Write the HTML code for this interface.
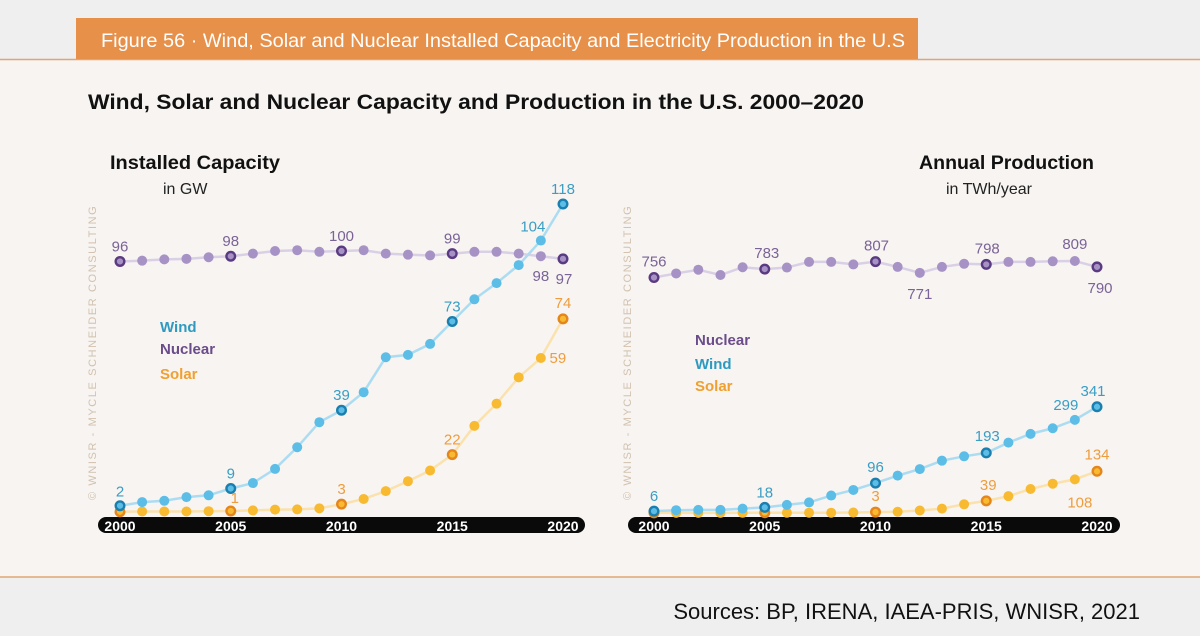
<!DOCTYPE html>
<html><head><meta charset="utf-8">
<style>
html,body{margin:0;padding:0;}
body{width:1200px;height:636px;background:#efefef;position:relative;overflow:hidden;font-family:"Liberation Sans",sans-serif;}
svg{position:absolute;left:0;top:0;}
</style></head>
<body>
<svg id="chart" width="1200" height="636" viewBox="0 0 1200 636">
  <rect x="0" y="59" width="1200" height="518" fill="#f7f4f2"/>
  <line x1="0" y1="59.5" x2="1200" y2="59.5" stroke="#e0a572" stroke-width="1.5"/>
  <line x1="0" y1="577" x2="1200" y2="577" stroke="#e0a572" stroke-width="1.5"/>
  <rect x="76" y="18" width="842" height="41" fill="#e6904a"/>
  <text x="101" y="47" font-size="19.5" fill="#ffffff" textLength="804" lengthAdjust="spacingAndGlyphs">Figure 56 · Wind, Solar and Nuclear Installed Capacity and Electricity Production in the U.S</text>
  <text x="88" y="109" font-size="21" font-weight="bold" fill="#111" textLength="776" lengthAdjust="spacingAndGlyphs">Wind, Solar and Nuclear Capacity and Production in the U.S. 2000–2020</text>
  <text x="110" y="169" font-size="19" font-weight="bold" fill="#111" textLength="170" lengthAdjust="spacingAndGlyphs">Installed Capacity</text>
  <text x="163" y="194" font-size="16" fill="#222">in GW</text>
  <text x="919" y="169" font-size="19" font-weight="bold" fill="#111" textLength="175" lengthAdjust="spacingAndGlyphs">Annual Production</text>
  <text x="946" y="194" font-size="16" fill="#222">in TWh/year</text>
  <text transform="translate(96,500) rotate(-90)" font-size="11" letter-spacing="1.6" fill="#d2c2ae">© WNISR - MYCLE SCHNEIDER CONSULTING</text>
  <text transform="translate(631,500) rotate(-90)" font-size="11" letter-spacing="1.6" fill="#d2c2ae">© WNISR - MYCLE SCHNEIDER CONSULTING</text>
  <text x="160" y="332" font-size="15" font-weight="bold" fill="#2e9ac0">Wind</text>
  <text x="160" y="354" font-size="15" font-weight="bold" fill="#6b4c8a">Nuclear</text>
  <text x="160" y="379" font-size="15" font-weight="bold" fill="#f0a030">Solar</text>
  <text x="695" y="345" font-size="15" font-weight="bold" fill="#6b4c8a">Nuclear</text>
  <text x="695" y="369" font-size="15" font-weight="bold" fill="#2e9ac0">Wind</text>
  <text x="695" y="391" font-size="15" font-weight="bold" fill="#f0a030">Solar</text>
  <text x="1140" y="619" font-size="22" fill="#111" text-anchor="end">Sources: BP, IRENA, IAEA-PRIS, WNISR, 2021</text>
</svg>
<script>
const years = [2000,2001,2002,2003,2004,2005,2006,2007,2008,2009,2010,2011,2012,2013,2014,2015,2016,2017,2018,2019,2020];
const tickYears = [2000,2005,2010,2015,2020];
// Installed capacity (GW)
const capWind = [2.4,3.8,4.3,5.7,6.4,9,11.1,16.5,24.8,34.4,39,45.9,59.3,60.2,64.4,73,81.5,87.7,94.6,104,118];
const capNuclear = [96,96.3,96.8,97,97.6,98,99,100,100.3,99.7,100,100.3,99,98.6,98.3,99,99.7,99.7,99,98,97];
const capSolar = [0.1,0.2,0.2,0.2,0.3,0.4,0.6,0.9,1,1.4,3,5,8,11.8,15.9,22,33,41.5,51.6,59,74];
// Annual production (TWh)
const prodNuclear = [756,769,781,764,789,783,788,806,806,798,807,790,771,790,800,798,806,806,808,809,790];
const prodWind = [6,9,10,10,14,18,26,34,56,74,96,120,141,168,182,193,226,254,272,299,341];
const prodSolar = [0.5,0.5,0.6,0.6,0.7,1,1,1,1,1.5,3,4,8,14,28,39,54,77,94,108,134];
// printed labels: [yearIndex, text]
const capWindLabels = [[0,"2"],[5,"9"],[10,"39"],[15,"73"],[19,"104"],[20,"118"]];
const capNuclearLabels = [[0,"96"],[5,"98"],[10,"100"],[15,"99"],[19,"98"],[20,"97"]];
const capSolarLabels = [[5,"1"],[10,"3"],[15,"22"],[19,"59"],[20,"74"]];
const prodNuclearLabels = [[0,"756"],[5,"783"],[10,"807"],[12,"771"],[15,"798"],[19,"809"],[20,"790"]];
const prodWindLabels = [[0,"6"],[5,"18"],[10,"96"],[15,"193"],[19,"299"],[20,"341"]];
const prodSolarLabels = [[10,"3"],[15,"39"],[19,"108"],[20,"134"]];

const NS = "http://www.w3.org/2000/svg";
const svg = document.getElementById('chart');
function el(tag, attrs){const e=document.createElementNS(NS,tag);for(const k in attrs)e.setAttribute(k,attrs[k]);svg.appendChild(e);return e;}

const COL = {
  wind:{line:"#acdcf1",dot:"#5cbde6",ring:"#1a7fae",txt:"#3a9ec4"},
  nuclear:{line:"#d9d0e6",dot:"#a792c6",ring:"#5a3a80",txt:"#7a6396"},
  solar:{line:"#fbe2ad",dot:"#f8ba30",ring:"#e5861c",txt:"#ee9d3e"}
};

function panel(p){
  const x = y => p.x0 + (y-2000)*(p.x1-p.x0)/20;
  const yv = v => p.base - v*p.k;
  const bar = el('rect',{x:p.bx0,y:517,width:p.bx1-p.bx0,height:16,rx:8,fill:"#0a0a0a"});
  
  
  tickYears.forEach(t=>{
    const tx = el('text',{x:x(t),y:531,'font-size':14,'font-weight':'bold',fill:'#fff','text-anchor':'middle'});
    tx.textContent = t;
    
    
  });
  p.series.forEach(s=>{
    const c = COL[s.key];
    const pts = s.vals.map((v,i)=>x(years[i])+","+yv(v)).join(" ");
    const pl = el('polyline',{points:pts,fill:'none',stroke:c.line,'stroke-width':2.5});
    
    
  });
  p.series.forEach(s=>{
    const c = COL[s.key];
    s.vals.forEach((v,i)=>{
      const hi = tickYears.includes(years[i]);
      const d = el('circle',{cx:x(years[i]),cy:yv(v),r:hi?4.3:5,fill:c.dot});
      if(hi){d.setAttribute('stroke',c.ring);d.setAttribute('stroke-width',2.4);}
      
      
    });
    s.labels.forEach((L,j)=>{
      const off = s.offs[j];
      const i = L[0];
      const t = el('text',{x:x(years[i])+off[0],y:yv(s.vals[i])+off[1],'font-size':15,fill:c.txt,'text-anchor':'middle'});
      t.textContent = L[1];
      
      
    });
  });
}

panel({id:'capacity',x0:120,x1:563,base:512,k:2.61,bx0:98,bx1:585,series:[
  {key:'nuclear',vals:capNuclear,labels:capNuclearLabels,offs:[[0,-10],[0,-10],[0,-10],[0,-10],[0,25],[1,25]]},
  {key:'solar',vals:capSolar,labels:capSolarLabels,offs:[[4,-8],[0,-10],[0,-10],[17,5],[0,-11]]},
  {key:'wind',vals:capWind,labels:capWindLabels,offs:[[0,-9],[0,-10],[0,-10],[0,-10],[-8,-9],[0,-10]]}
]});
panel({id:'production',x0:654,x1:1097,base:513,k:0.3115,bx0:628,bx1:1120,series:[
  {key:'nuclear',vals:prodNuclear,labels:prodNuclearLabels,offs:[[0,-11],[2,-11],[1,-11],[0,26],[1,-11],[0,-12],[3,26]]},
  {key:'solar',vals:prodSolar,labels:prodSolarLabels,offs:[[0,-11],[2,-11],[5,28],[0,-12]]},
  {key:'wind',vals:prodWind,labels:prodWindLabels,offs:[[0,-10],[0,-10],[0,-11],[1,-12],[-9,-10],[-4,-11]]}
]});
</script>
</body></html>
